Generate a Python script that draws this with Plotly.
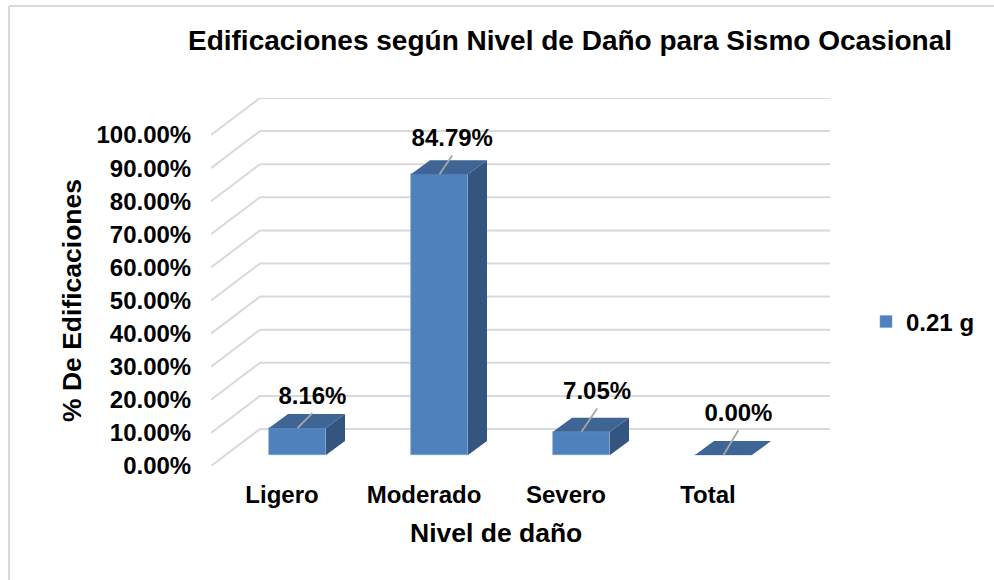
import plotly.graph_objects as go

categories = ["Ligero", "Moderado", "Severo", "Total"]
values = [8.16, 84.79, 7.05, 0.00]
y_ticks = [0, 10, 20, 30, 40, 50, 60, 70, 80, 90, 100]
y_tick_labels = [f"{v:.2f}%" for v in y_ticks]
leader_dx = [0.105, 0.09, 0.11, 0.105]
leader_dy = [4.5, 5.7, 7.0, 7.5]

W, H = 994, 580
L, R, T, B = 211, 830, 98, 466
PX_X = 142.0
PX_Y = 3.31
X0 = 282.0
x_range = [(L - X0) / PX_X, (R - X0) / PX_X]
y_range = [0, (B - T) / PX_Y]
back_dx, back_dy = 49 / PX_X, 37 / PX_Y
bar_shift = (297.5 - X0) / PX_X
bar_w = 57 / PX_X
bar_lift = 11 / PX_Y
depth_x, depth_y = 19 / PX_X, 14 / PX_Y
label_gap = 3 / PX_Y

FONT = "Liberation Sans, Arial, sans-serif"
FRONT, TOP, SIDE = "#4F81BD", "#3E6594", "#33557F"
GRID = "#D9D9D9"
LEAD = "#A6A6A6"
TXT = "#000000"

fig = go.Figure()

idx = list(range(len(categories)))
centers = [i + bar_shift for i in idx]

fig.add_trace(go.Bar(
    x=centers, y=values, base=bar_lift, width=bar_w, name="0.21 g",
    marker=dict(color=FRONT, line=dict(color="#7BA0CC", width=0.6)),
    hoverinfo="skip", showlegend=True,
))

for c, v in zip(centers, values):
    x1, x2 = c - bar_w / 2, c + bar_w / 2
    top = v + bar_lift
    if v > 0:
        fig.add_trace(go.Scatter(
            x=[x2, x2 + depth_x, x2 + depth_x, x2, x2],
            y=[bar_lift, bar_lift + depth_y, top + depth_y, top, bar_lift],
            mode="lines", fill="toself", fillcolor=SIDE, line=dict(width=0),
            showlegend=False, hoverinfo="skip",
        ))
    fig.add_trace(go.Scatter(
        x=[x1, x2, x2 + depth_x, x1 + depth_x, x1],
        y=[top, top, top + depth_y, top + depth_y, top],
        mode="lines", fill="toself", fillcolor=TOP, line=dict(width=0),
        showlegend=False, hoverinfo="skip",
    ))

for c, v, dx, dy in zip(centers, values, leader_dx, leader_dy):
    y0 = v + bar_lift
    fig.add_trace(go.Scatter(
        x=[c, c + dx], y=[y0, y0 + dy], mode="lines",
        line=dict(color=LEAD, width=1.8), showlegend=False, hoverinfo="skip",
    ))

fig.add_trace(go.Scatter(
    x=[c + dx for c, dx in zip(centers, leader_dx)],
    y=[v + bar_lift + dy + label_gap for v, dy in zip(values, leader_dy)],
    mode="text", text=[f"{v:.2f}%" for v in values], textposition="top center",
    textfont=dict(family=FONT, size=24, color=TXT, weight="bold"),
    showlegend=False, hoverinfo="skip", cliponaxis=False,
))

shapes = []
for t in y_ticks:
    shapes.append(dict(type="line", xref="x", yref="y", layer="below",
                       x0=x_range[0] + back_dx, x1=x_range[1],
                       y0=t + back_dy, y1=t + back_dy,
                       line=dict(color=GRID, width=2)))
    shapes.append(dict(type="line", xref="x", yref="y", layer="below",
                       x0=x_range[0], x1=x_range[0] + back_dx,
                       y0=t, y1=t + back_dy,
                       line=dict(color=GRID, width=2)))
# chart frame
px = lambda a: (a - L) / (R - L)
py = lambda a: (B - a) / (B - T)
shapes.append(dict(type="line", xref="paper", yref="paper", x0=px(9), x1=px(9),
                   y0=py(6), y1=py(H), line=dict(color=GRID, width=2)))
shapes.append(dict(type="line", xref="paper", yref="paper", x0=px(9), x1=px(W),
                   y0=py(6), y1=py(6), line=dict(color=GRID, width=2)))

annotations = [
    dict(text="<b>% De Edificaciones</b>", xref="paper", yref="paper",
         x=px(72), y=py(301), xanchor="center", yanchor="middle",
         textangle=-90, showarrow=False,
         font=dict(family=FONT, size=26.5, color=TXT)),
    dict(text="<b>Nivel de daño</b>", xref="paper", yref="paper",
         x=px(496), y=py(533), xanchor="center", yanchor="middle", showarrow=False,
         font=dict(family=FONT, size=26.5, color=TXT)),
]

fig.update_layout(
    width=W, height=H, autosize=False,
    margin=dict(l=L, r=W - R, t=T, b=H - B, pad=0),
    paper_bgcolor="white", plot_bgcolor="white",
    title=dict(text="<b>Edificaciones según Nivel de Daño para Sismo Ocasional</b>",
               x=570 / W, xanchor="center", y=1 - 40 / H, yanchor="middle",
               font=dict(family=FONT, size=28, color=TXT)),
    xaxis=dict(range=x_range, tickmode="array", tickvals=idx, ticktext=categories,
               showgrid=False, zeroline=False, showline=False,
               ticks="outside", ticklen=7, tickcolor="rgba(0,0,0,0)",
               tickfont=dict(family=FONT, size=24, color=TXT, weight="bold")),
    yaxis=dict(range=y_range, tickmode="array", tickvals=y_ticks, ticktext=y_tick_labels,
               showgrid=False, zeroline=False, showline=False,
               ticks="outside", ticklen=14, tickcolor="rgba(0,0,0,0)",
               tickfont=dict(family=FONT, size=24, color=TXT, weight="bold")),
    legend=dict(x=(876 - L) / (R - L), xanchor="left", y=py(322), yanchor="middle",
                font=dict(family=FONT, size=24, color=TXT, weight="bold"),
                indentation=-10,
                bgcolor="rgba(0,0,0,0)", borderwidth=0),
    shapes=shapes, annotations=annotations, bargap=0,
    hovermode=False,
)
fig.write_html("out.html", config={"displayModeBar": False},
               post_script="document.body.style.margin='0';document.body.style.overflow='hidden';")
